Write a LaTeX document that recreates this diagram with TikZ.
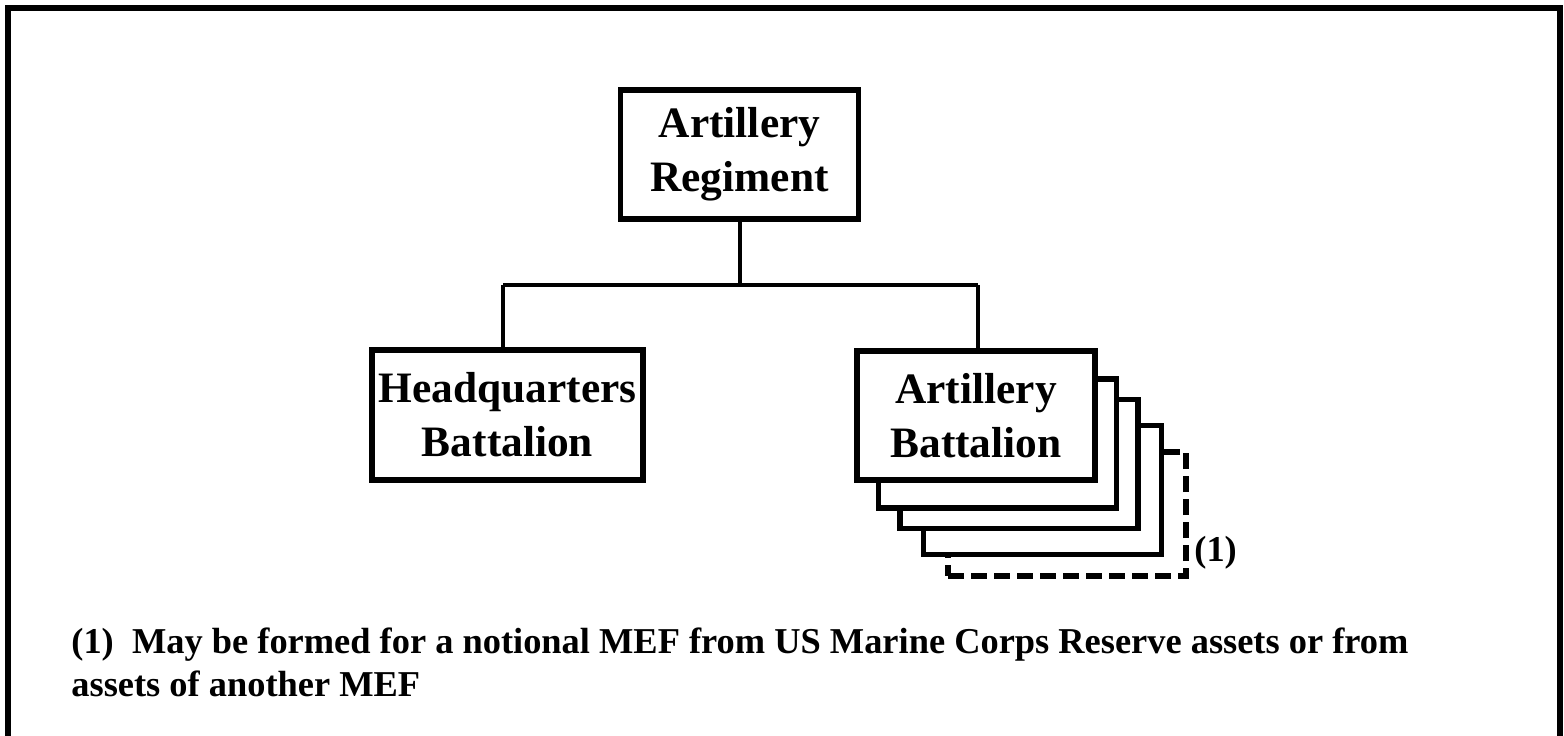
\documentclass[tikz,border=0pt]{standalone}
\usepackage{fontspec}
\setmainfont{Liberation Serif}
\begin{document}
\begin{tikzpicture}[x=0.5pt,y=-0.5pt,
  orgbox/.style={draw, line width=2.6pt, fill=white, minimum width=119pt, minimum height=64.5pt, inner sep=0pt, align=center, font=\fontsize{21.7}{27}\selectfont\bfseries},
  stackbox/.style={draw, line width=2.6pt, fill=white, minimum width=119pt, minimum height=64.5pt, inner sep=0pt},
  dashbox/.style={draw, line width=2.6pt, dash pattern=on 8pt off 3.5pt, fill=white, minimum width=119pt, minimum height=62pt, inner sep=0pt},
  conn/.style={line width=2pt},
  note/.style={font=\fontsize{18.2}{22}\selectfont\bfseries, inner sep=0pt}]
\useasboundingbox (0,0) rectangle (1564,735);
\draw[line width=2.6pt] (8,8) rectangle (1560,760);
% stacked battalions (back to front)
\node[dashbox] (s4) at (1067,514) {};
\node[stackbox] (s3) at (1042.5,490) {};
\node[stackbox] (s2) at (1019,464) {};
\node[stackbox] (s1) at (997.5,443.5) {};
\node[orgbox] (bn) at (976,415.5) {Artillery\\Battalion};
\node[orgbox] (reg) at (739.5,154.5) {Artillery\\Regiment};
\node[orgbox, minimum width=135.5pt, minimum height=65pt] (hq) at (507.5,415) {Headquarters\\Battalion};
% connectors
\coordinate (j) at (739.5,285);
\coordinate (jl) at (503,285);
\coordinate (jr) at (978,285);
\draw[conn] (reg.south) -- (j);
\draw[conn] (jl) -- (jr);
\draw[conn] (jl) -- (jl |- hq.north);
\draw[conn] (jr) -- (jr |- bn.north);
% labels
\node[note, anchor=west] (lbl) at (1194,553) {(1)};
\node[note, anchor=base west] (fn1) at (71,653) {(1)\hspace{0.5em}May be formed for a notional MEF from US Marine Corps Reserve assets or from};
\node[note, anchor=base west] (fn2) at (71,696) {assets of another MEF};
\end{tikzpicture}
\end{document}
